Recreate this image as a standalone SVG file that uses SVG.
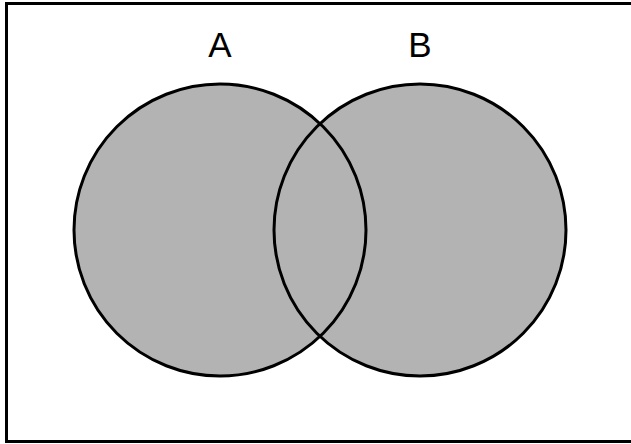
<svg xmlns="http://www.w3.org/2000/svg" width="631" height="444" viewBox="0 0 631 444">
<style>
.fill{fill:#b3b3b3;stroke:none}
.ring{fill:none;stroke:#000;stroke-width:3}
.lbl{font-family:"Liberation Sans",Arial,sans-serif;font-size:35px;fill:#000;text-anchor:middle}
</style>
<rect x="6.5" y="3.5" width="640" height="438" fill="#fff" stroke="#000" stroke-width="3"/>
<g id="A">
<circle class="fill" cx="220" cy="230" r="146"/>
<text class="lbl" x="220" y="57">A</text>
</g>
<g id="B">
<circle class="fill" cx="420" cy="230" r="146"/>
<text class="lbl" x="420" y="57">B</text>
</g>
<g id="outlines">
<circle class="ring" cx="220" cy="230" r="146"/>
<circle class="ring" cx="420" cy="230" r="146"/>
</g>
</svg>
